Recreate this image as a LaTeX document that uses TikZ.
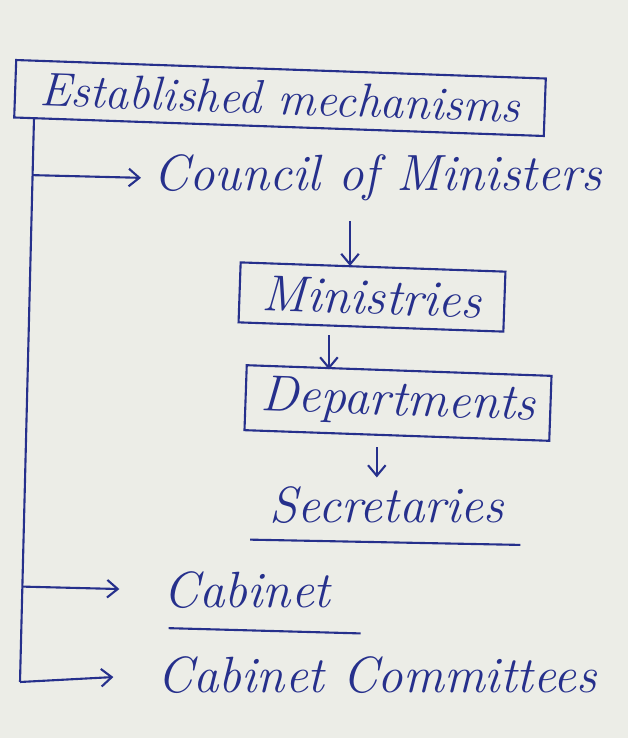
\documentclass[tikz,border=0pt]{standalone}
\usepackage{tikz}
\usetikzlibrary{shapes,arrows,arrows.meta,positioning,calc}
\definecolor{ink}{RGB}{38,48,140}
\definecolor{paper}{RGB}{236,237,231}

\begin{document}
\begin{tikzpicture}[x=0.02cm,y=-0.02cm,
  txt/.style={text=ink,font=\fontsize{29}{32}\selectfont\itshape,inner sep=3pt},
  boxed/.style={txt,draw=ink,line width=1.2pt,rotate=-2,inner xsep=8pt},
  link/.style={ink,line width=1.2pt,-{Straight Barb[length=6pt,width=10pt]}}]
% paper
\fill[paper] (0,0) rectangle (628,738);
\useasboundingbox (0,0) rectangle (628,738);

% heading box
\node[boxed,font=\fontsize{27}{30}\selectfont\itshape,minimum width=10.6cm,minimum height=1.15cm] (est) at (280,98) {Established mechanisms};

% trunk
\coordinate (top) at (34,118);
\coordinate (bot) at (20,682);
\draw[ink,line width=1.2pt] (top) -- (bot);

% first branch and its chain
\node[txt,anchor=west] (council) at (148,178) {Council of Ministers};
\node[boxed,minimum width=5.3cm,minimum height=1.2cm] (mins) at (372,297) {Ministries};
\node[boxed,minimum width=6.1cm,minimum height=1.3cm] (depts) at (398,403) {Departments};
\node[txt] (secs) at (387,505) {Secretaries};
\draw[ink,line width=1.2pt] ([xshift=-8pt,yshift=-6pt]secs.south west) -- ([xshift=6pt,yshift=-9pt]secs.south east);

\draw[link,shorten <=8pt] (council.south -| 350,0) -- (350,0 |- mins.north);
\draw[link,shorten <=4pt] ([xshift=-42*0.02cm]mins.south) coordinate (m1) -- (m1 |- depts.north);
\draw[link,shorten <=2pt] ([xshift=-20*0.02cm,yshift=-4pt]depts.south) coordinate (d1) -- ([yshift=2pt]d1 |- secs.north);

% lower branches
\node[txt,anchor=west] (cab) at (158,590) {Cabinet};
\draw[ink,line width=1.2pt] ([xshift=6pt,yshift=-8pt]cab.south west) -- ([xshift=14pt,yshift=-11pt]cab.south east);
\node[txt,anchor=west] (cabcom) at (152,675) {Cabinet Committees};

\coordinate (b1) at ($(top)!(council.west)!(bot)$);
\coordinate (b2) at ($(top)!(cab.west)!(bot)$);
\draw[link,shorten >=4pt] (b1) -- (council.west);
\draw[link,shorten >=22pt] (b2) -- (cab.west);
\draw[link,shorten >=22pt] (bot) -- (cabcom.west);
\end{tikzpicture}
\end{document}
